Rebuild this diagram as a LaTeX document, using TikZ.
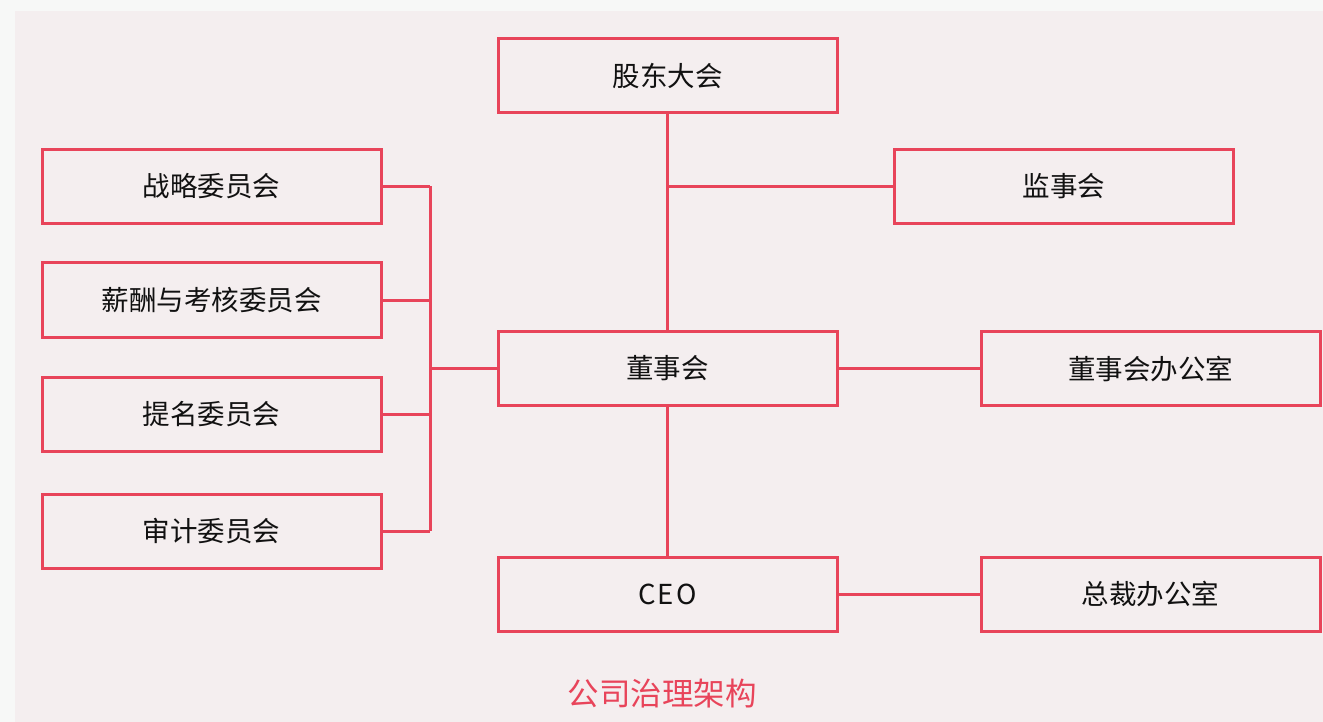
\documentclass[tikz,border=0pt]{standalone}
\usepackage{fontspec}
\setmainfont{Noto Sans CJK SC}
\usetikzlibrary{positioning}
\definecolor{bdr}{HTML}{E8445A}
\definecolor{panel}{HTML}{F4EEEF}
\definecolor{outer}{HTML}{F7F8F7}
\definecolor{txt}{HTML}{111111}
\tikzset{
  orgbox/.style={draw=bdr, line width=3pt, minimum width=339pt, minimum height=74pt, inner sep=0pt, text=txt, font=\fontsize{27.5}{32}\selectfont, anchor=center},
  link/.style={draw=bdr, line width=3pt}
}
\begin{document}
\begin{tikzpicture}[x=1pt,y=-1pt]
\useasboundingbox (0,0) rectangle (1323,722);
\fill[outer] (0,0) rectangle (1323,722);
\fill[panel] (15,11) rectangle (1323,722);
\node[orgbox] (gd) at (667.5,75.5) {股东大会};
\node[orgbox] (js) at (1064,186.5) {监事会};
\node[orgbox] (zl) at (211.5,186.5) {战略委员会};
\node[orgbox] (xc) at (211.5,300) {薪酬与考核委员会};
\node[orgbox] (tm) at (211.5,414) {提名委员会};
\node[orgbox] (sj) at (211.5,531) {审计委员会};
\node[orgbox] (ds) at (667.5,368.5) {董事会};
\node[orgbox] (dsb) at (1150.5,368.5) {董事会办公室};
\node[orgbox] (ceo) at (667.5,594) {\addfontfeature{LetterSpace=8}CEO};
\node[orgbox] (zc) at (1150.5,594) {总裁办公室};
\node[text=bdr, font=\fontsize{31.5}{36}\selectfont] (title) at (662,694) {公司治理架构};
\coordinate (bjs) at (667.5,186.5);
\coordinate (btop) at (430,186.5);
\coordinate (bbot) at (430,531);
\coordinate (bmid) at (430,368.5);
\draw[link] (gd.south) -- (ds.north);
\draw[link] (bjs) -- (js.west);
\draw[link] (ds.south) -- (ceo.north);
\draw[link] (ds.east) -- (dsb.west);
\draw[link] (ceo.east) -- (zc.west);
\draw[link] (zl.east) -- (btop);
\draw[link] (xc.east) -- (xc.east -| bmid);
\draw[link] (tm.east) -- (tm.east -| bmid);
\draw[link] (sj.east) -- (bbot);
\draw[link] (btop) -- (bbot);
\draw[link] (bmid) -- (ds.west);
\end{tikzpicture}
\end{document}
